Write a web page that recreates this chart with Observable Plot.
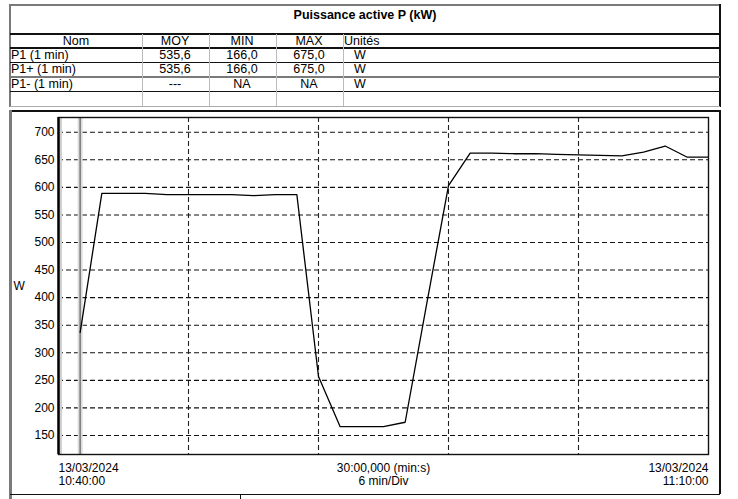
<!DOCTYPE html>
<html><head><meta charset="utf-8">
<script src="https://cdn.jsdelivr.net/npm/d3@7"></script>
<script src="https://cdn.jsdelivr.net/npm/@observablehq/plot@0.6"></script>
<style>
body{margin:0;background:#fff;font-family:"Liberation Sans",Arial,sans-serif;}
#root{position:relative;width:738px;height:499px;overflow:hidden;background:#fff;}
.a{position:absolute;}
.t{position:absolute;font-size:12.5px;line-height:14px;white-space:nowrap;color:#000;}
#chart{position:absolute;left:0;top:110px;}
</style></head><body><div id="root"></div>
<script>
// ---- table data ----
const title = "Puissance active P (kW)";
const headers = ["Nom", "MOY", "MIN", "MAX", "Unités"];
const names = ["P1 (1 min)", "P1+ (1 min)", "P1- (1 min)"];
const moy = ["535,6", "535,6", "---"];
const mins = ["166,0", "166,0", "NA"];
const maxs = ["675,0", "675,0", "NA"];
const units = ["W", "W", "W"];

// ---- series (minutes after 10:40:00, value in W) ----
const minutes = [1, 2, 3, 4, 5, 6, 7, 8, 9, 10, 11, 12, 13, 14, 15, 16, 17, 18, 19, 20, 21, 22, 23, 24, 25, 26, 27, 28, 29, 30];
const values  = [337, 589, 589, 589, 587, 587, 587, 587, 585, 587, 587, 257, 166, 166, 166, 174, 390, 603, 662, 662, 661, 661, 660, 659, 658, 657, 664, 675, 655, 655];
const yTicks = [150, 200, 250, 300, 350, 400, 450, 500, 550, 600, 650, 700];
const gridMinutes = [6, 12, 18, 24];
const cursorMinute = [1];
const yLabel = "W";
const xLabels = [
  {m: 0, t: "13/03/2024\n10:40:00", anchor: "start"},
  {m: 15, t: "30:00,000 (min:s)\n6 min/Div", anchor: "middle"},
  {m: 30, t: "13/03/2024\n11:10:00", anchor: "end"}
];

const root = document.getElementById("root");
function box(l, t, w, h, css) {
  const d = document.createElement("div");
  d.className = "a";
  Object.assign(d.style, {left: l + "px", top: t + "px", width: w + "px", height: h + "px"}, css || {});
  root.appendChild(d);
  return d;
}
function txt(s, x, cy, align, bold) {
  const d = document.createElement("div");
  d.className = "t";
  d.textContent = s;
  d.style.top = (cy - 7) + "px";
  if (bold) d.style.fontWeight = "bold";
  root.appendChild(d);
  const w = d.getBoundingClientRect().width;
  const left = align === "middle" ? x - w / 2 : align === "end" ? x - w : x;
  d.style.left = left + "px";
}

// ---- table frame ----
box(10, 4, 710, 2, {background: "#7a7a7a"});
box(9, 4, 2, 103, {background: "#7a7a7a"});
box(719, 4, 1.5, 103, {background: "#111"});
const rowLines = [[33, "#111", 1.6], [47.2, "#111", 1.4], [61.5, "#111", 1.4], [75.8, "#7a7a7a", 2], [90.5, "#111", 1.4], [105.5, "#aaa", 1.2]];
rowLines.forEach(([y, c, h]) => box(10, y, 710, h, {background: c}));
[141.5, 209, 276, 343].forEach(x => box(x, 34, 1, 72, {background: "#bbb"}));

txt(title, 365, 14.5, "middle", true);
const colCenters = [76, 175, 242, 309];
txt(headers[0], colCenters[0], 41, "middle");
txt(headers[1], colCenters[1], 41, "middle");
txt(headers[2], colCenters[2], 41, "middle");
txt(headers[3], colCenters[3], 41, "middle");
txt(headers[4], 344, 41, "start");
const rowCy = [55, 69.3, 83.6];
names.forEach((n, i) => {
  txt(n, 11, rowCy[i], "start");
  txt(moy[i], colCenters[1], rowCy[i], "middle");
  txt(mins[i], colCenters[2], rowCy[i], "middle");
  txt(maxs[i], colCenters[3], rowCy[i], "middle");
  txt(units[i], 360, rowCy[i], "middle");
});

// ---- chart box ----
box(10, 110, 710, 1.5, {background: "#111"});
box(9, 110, 2.5, 389, {background: "#7a7a7a"});
box(719, 110, 1.5, 384, {background: "#111"});
box(10, 493.5, 710, 1.5, {background: "#111"});
box(240, 494, 1, 5, {background: "#111"});

// ---- plot ----
const data = minutes.map((m, i) => ({m, v: values[i]}));
const chart = Plot.plot({
  width: 738,
  height: 384,
  marginLeft: 58,
  marginRight: 30,
  marginTop: 7,
  marginBottom: 40,
  style: {fontFamily: "'Liberation Sans', Arial, sans-serif", fontSize: "12px", background: "transparent", overflow: "visible", color: "#000"},
  x: {domain: [0, 30], axis: null},
  y: {domain: [115.5, 726.7], axis: null},
  marks: [
    Plot.ruleY(yTicks, {stroke: "#111", strokeWidth: 1.1, strokeDasharray: "5,3"}),
    Plot.ruleX(gridMinutes, {stroke: "#222", strokeWidth: 1.1, strokeDasharray: "5,3"}),
    Plot.ruleX(cursorMinute, {stroke: "#dcdcdc", strokeWidth: 5}),
    Plot.ruleX(cursorMinute, {stroke: "#7f7f7f", strokeWidth: 1.6}),
    Plot.ruleX([0], {stroke: "#d0d0d0", strokeWidth: 3, dx: 2}),
    Plot.lineY(data, {x: "m", y: "v", stroke: "#000", strokeWidth: 1.3}),
    Plot.frame({stroke: "#111", strokeWidth: 1.4}),
    Plot.ruleX([0], {stroke: "#000", strokeWidth: 2.4}),
    Plot.axisY(yTicks, {tickSize: 0, tickPadding: 4, label: null, fontSize: 12}),
    Plot.text([yLabel], {frameAnchor: "left", dx: -45, textAnchor: "start", fontSize: 12}),
    ...xLabels.map(d => Plot.text([d], {x: "m", text: "t", frameAnchor: "bottom", textAnchor: d.anchor, lineAnchor: "top", dy: 8, lineHeight: 1.08, fontSize: 12}))
  ]
});
chart.id = "chart";
root.appendChild(chart);
</script>
</body></html>
